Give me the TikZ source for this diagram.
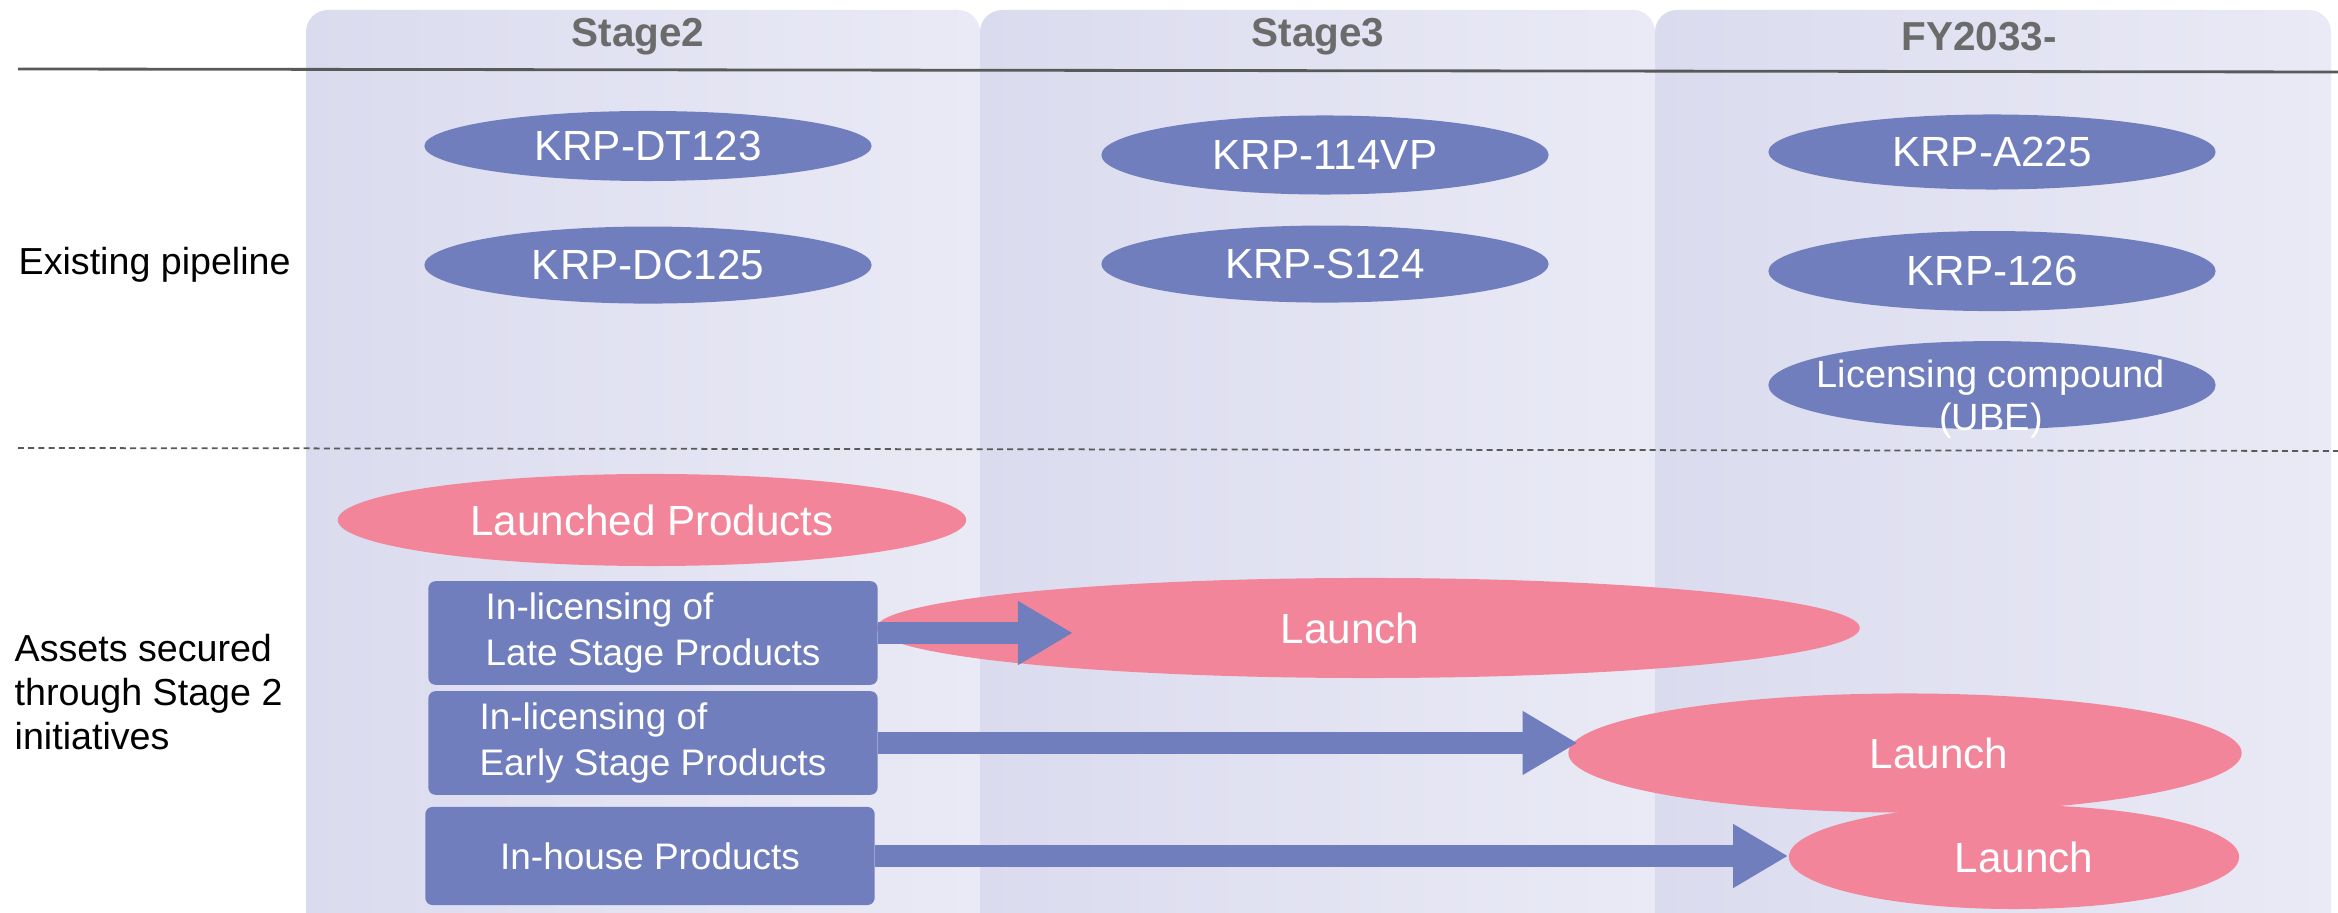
\documentclass[tikz,border=0pt]{standalone}
\usepackage{fontspec}
\setmainfont{Liberation Sans}
\usetikzlibrary{shapes,arrows.meta,positioning,calc}
\definecolor{pipeblue}{HTML}{707EBD}
\definecolor{launchpink}{HTML}{F2859A}
\definecolor{panelleft}{HTML}{DADBEE}
\definecolor{panelright}{HTML}{EAEAF6}
\definecolor{headgray}{HTML}{6B6B6B}
\definecolor{rulegray}{HTML}{595959}
\tikzset{
    panel/.style = {
        left color=panelleft,
        right color=panelright,
        rounded corners=0.22cm
    },
    header/.style = {
        text=headgray,
        font=\fontsize{11.5}{13}\selectfont\bfseries
    },
    pipe/.style = {
        fill=pipeblue,
        ellipse,
        inner sep=0pt,
        text=white,
        minimum width=4.47cm,
        minimum height=0.77cm,
        font=\fontsize{12}{12.2}\selectfont
    },
    launch/.style = {
        fill=launchpink,
        ellipse,
        inner sep=0pt,
        text=white,
        font=\fontsize{12}{14}\selectfont
    },
    asset/.style = {
        fill=pipeblue,
        rectangle,
        rounded corners=2pt,
        text=white,
        align=left,
        minimum width=4.49cm,
        minimum height=0.98cm,
        font=\fontsize{10.5}{13}\selectfont
    },
    rowlabel/.style = {
        anchor=west,
        align=left,
        inner sep=0pt,
        font=\fontsize{10.7}{12.6}\selectfont
    },
    flow/.style = {
        draw=pipeblue,
        line width=0.21cm,
        -{Triangle[length=0.55cm,width=0.6cm]}
    }
}

\begin{document}
\begin{tikzpicture}[x=0.01cm, y=-0.01cm]
            \useasboundingbox (0,0) rectangle (2338,913);
            % phase columns
            \path [panel] (306,10) rectangle (980,960);
            \path [panel] (980,10) rectangle (1655,960);
            \path [panel] (1655,10) rectangle (2331,960);
            \node [header] (stage2) at (638,37) {Stage2};
            \node [header] (stage3) at (1318,37) {Stage3};
            \node [header] (fy2033) at (1979,37) {FY2033-};
            \draw [rulegray, line width=0.8pt] (18,69) -- (2338,72);
            \draw [rulegray, line width=0.5pt, dash pattern=on 1.7pt off 1.2pt] (18,448) -- (2338,451);

            % row labels
            \node [rowlabel] (existing) at (18,265) {Existing pipeline};
            \node [rowlabel] (secured) at (14,692) {Assets secured\\through Stage 2\\initiatives};

            % existing pipeline
            \node [pipe,minimum height=0.70cm] (dt123) at (648,146) {KRP-DT123};
            \node [pipe,below of=dt123,node distance=1.19cm] (dc125) {KRP-DC125};
            \node [pipe,minimum height=0.79cm] (vp114) at (1325,155) {KRP-114VP};
            \node [pipe,below of=vp114,node distance=1.09cm] (s124) {KRP-S124};
            \node [pipe,minimum height=0.75cm] (a225) at (1992,152) {KRP-A225};
            \node [pipe,below of=a225,node distance=1.19cm,minimum height=0.80cm] (k126) {KRP-126};
            \node [pipe,below of=k126,node distance=1.14cm,minimum height=0.88cm] (ube) {};
            \node [pipe,fill=none,align=center,font=\fontsize{10.8}{12.2}\selectfont] (ubetext) at ($(ube)+(-1,14)$) {Licensing compound\\(UBE)};

            % launches
            \node [launch,minimum width=6.28cm,minimum height=0.92cm] (launched) at (652,520) {Launched Products};
            \node [launch,minimum width=9.83cm,minimum height=1.00cm] (launchA) at (1368,628) {Launch\hspace*{0.36cm}};
            \node [launch,minimum width=6.73cm,minimum height=1.19cm] (launchB) at (1905,753) {\hspace*{0.68cm}Launch};
            \node [launch,minimum width=4.50cm,minimum height=1.04cm] (launchC) at (2014,857) {\hspace*{0.2cm}Launch};

            % secured assets
            \node [asset,minimum height=1.00cm] (late) at (653,633) {In-licensing of\\Late Stage Products};
            \node [asset,minimum height=0.97cm] (early) at (653,743) {In-licensing of\\Early Stage Products};
            \node [asset] (inhouse) at (650,856) {In-house Products};
            \coordinate (lateend) at (1073,633);

            % arrows
            \draw [flow] (late.east) -- (lateend);
            \draw [flow] (early.east) -- ($(early.east -| launchB.west)+(10,0)$);
            \draw [flow] (inhouse.east) -- (inhouse.east -| launchC.west);
        \end{tikzpicture}
\end{document}
